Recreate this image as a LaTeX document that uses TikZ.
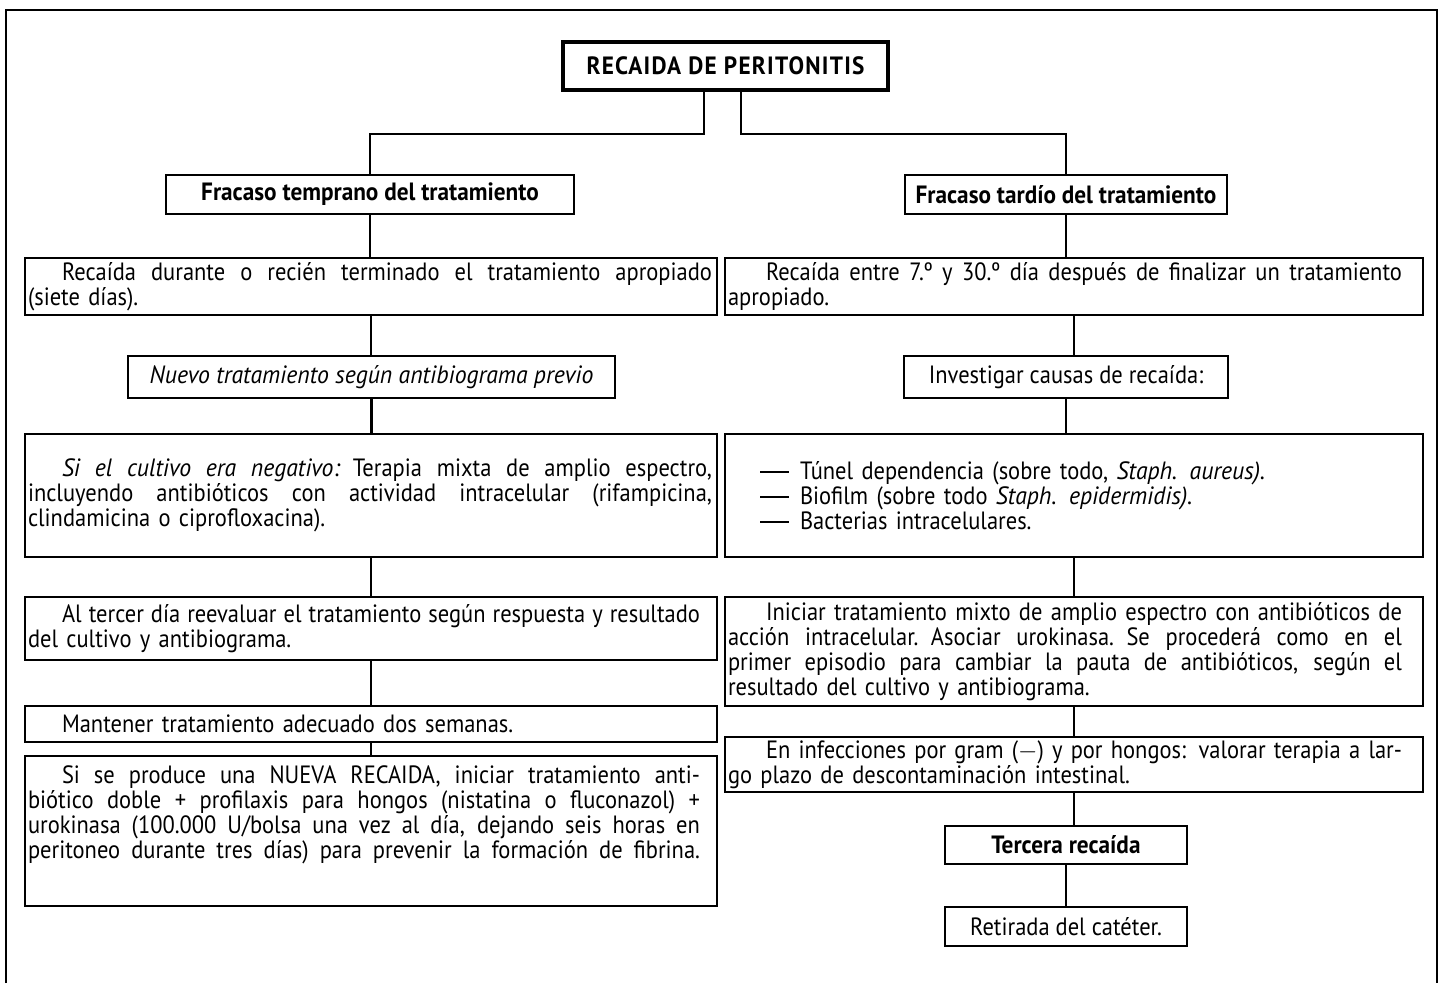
\documentclass[tikz,border=0pt]{standalone}
\usepackage{fontspec}
\setmainfont{PT Sans}[
  UprightFeatures={FakeStretch=0.9},
  BoldFeatures={FakeStretch=0.93},
  ItalicFeatures={FakeStretch=0.95}]
\newlength\jw
% a block of stacked lines; a justified line of fixed width; a last line
\newcommand\lines[1]{\noindent\vbox{#1}}
\newcommand\jl[1]{\hbox to\jw{\spaceskip=\fontdimen2\font plus 1fil\relax #1}}
\newcommand\lastl[1]{\hbox{#1}}
\newcommand\ind{\hskip 34pt}
\newcommand\rind{\hskip 38pt}
% long dash that opens each item of a list
\newcommand\dashitem{\hskip 32pt\rule[0.27em]{29pt}{1.8pt}\hskip 11pt}
\tikzset{
  base/.style={draw, line width=2.4pt, inner sep=0pt, font=\fontsize{25}{25}\selectfont},
  head/.style={base, font=\fontsize{25}{25}\selectfont\bfseries},
  jw/.style={execute at begin node={\setlength\jw{#1}}},
  lbox/.style={base, text width=686pt, inner xsep=3pt, minimum height=#1},
  rbox/.style={base, text width=692pt, inner xsep=3pt, minimum height=#1},
  conn/.style={line width=2.2pt},
}
\begin{document}
\begin{tikzpicture}[x=1pt,y=-1pt]
\useasboundingbox (0,0) rectangle (1441,983);
\fill[white] (0,0) rectangle (1441,983);
% outer frame, open at the bottom
\draw[line width=2.4pt] (6,983) -- (6,10) -- (1437,10) -- (1437,983);

\node[head, line width=3.6pt, minimum width=325, minimum height=48,
      font=\fontsize{25}{25}\selectfont\bfseries\addfontfeature{LetterSpace=5}] (title) at (725.5,66) {RECAIDA DE PERITONITIS};

% early failure branch
\node[head, minimum width=408, minimum height=39] (ft) at (370,194.5) {Fracaso temprano del tratamiento};
\node[lbox=57, jw=684pt] (b2) at (371,286.5) {\lines{%
  \jl{\ind Recaída durante o recién terminado el tratamiento apropiado}%
  \lastl{(siete días).}}};
\node[base, font=\fontsize{25}{25}\selectfont\itshape, minimum width=487, minimum height=42]
  (b3) at (371.5,377) {Nuevo tratamiento según antibiograma previo};
\node[lbox=123, jw=684pt] (b4) at (371,495.5) {\lines{%
  \jl{\ind\textit{Si el cultivo era negativo:} Terapia mixta de amplio espectro,}%
  \jl{incluyendo antibióticos con actividad intracelular (rifampicina,}%
  \lastl{clindamicina o ciprofloxacina).}}};
\node[lbox=63, jw=672pt] (b5) at (371,628.5) {\lines{%
  \jl{\ind Al tercer día reevaluar el tratamiento según respuesta y resultado}%
  \lastl{del cultivo y antibiograma.}}};
\node[lbox=36, jw=672pt] (b6) at (371,724) {\lines{%
  \lastl{\ind Mantener tratamiento adecuado dos semanas.}}};
\node[lbox=150, jw=672pt] (b7) at (371,831) {\lines{%
  \jl{\ind Si se produce una NUEVA RECAIDA, iniciar tratamiento anti-}%
  \jl{biótico doble + profilaxis para hongos (nistatina o fluconazol) +}%
  \jl{urokinasa (100.000 U/bolsa una vez al día, dejando seis horas en}%
  \jl{peritoneo durante tres días) para prevenir la formación de fibrina.}%
  \vskip 32pt}};

% late failure branch
\node[head, minimum width=322, minimum height=39] (fd) at (1066,194.5) {Fracaso tardío del tratamiento};
\node[rbox=57, jw=674pt] (r2) at (1074,286.5) {\lines{%
  \jl{\rind Recaída entre 7.º y 30.º día después de finalizar un tratamiento}%
  \lastl{apropiado.}}};
\node[base, minimum width=324, minimum height=42] (r3) at (1066,377) {Investigar causas de recaída:};
\node[rbox=123, jw=674pt] (r4) at (1074,495.5) {\lines{%
  \lastl{\dashitem Túnel dependencia (sobre todo, \textit{Staph. aureus).}}%
  \lastl{\dashitem Biofilm (sobre todo \textit{Staph. epidermidis).}}%
  \lastl{\dashitem Bacterias intracelulares.}}};
\node[rbox=109, jw=674pt] (r5) at (1074,651.5) {\lines{%
  \jl{\rind Iniciar tratamiento mixto de amplio espectro con antibióticos de}%
  \jl{acción intracelular. Asociar urokinasa. Se procederá como en el}%
  \jl{primer episodio para cambiar la pauta de antibióticos, según el}%
  \lastl{resultado del cultivo y antibiograma.}}};
\node[rbox=55, jw=674pt] (r6) at (1074,764.5) {\lines{%
  \jl{\rind En infecciones por gram ($-$) y por hongos: valorar terapia a lar-}%
  \lastl{go plazo de descontaminación intestinal.}}};
\node[head, minimum width=242, minimum height=38] (r7) at (1066,845) {Tercera recaída};
\node[base, minimum width=242, minimum height=39] (r8) at (1066,926.5) {Retirada del catéter.};

% connectors
\coordinate (jl) at (704,134);
\coordinate (jr) at (741,134);
\draw[conn] (title.south -| jl) -- (jl) -| (ft.north);
\draw[conn] (title.south -| jr) -- (jr) -| (fd.north);
\foreach \a/\b in {ft/b2,b2/b3,b3/b4,b4/b5,b5/b6,b6/b7,
                   fd/r2,r2/r3,r3/r4,r4/r5,r5/r6,r6/r7,r7/r8}
  \draw[conn] (\a.south) -- (\a.south |- \b.north);
\end{tikzpicture}
\end{document}
